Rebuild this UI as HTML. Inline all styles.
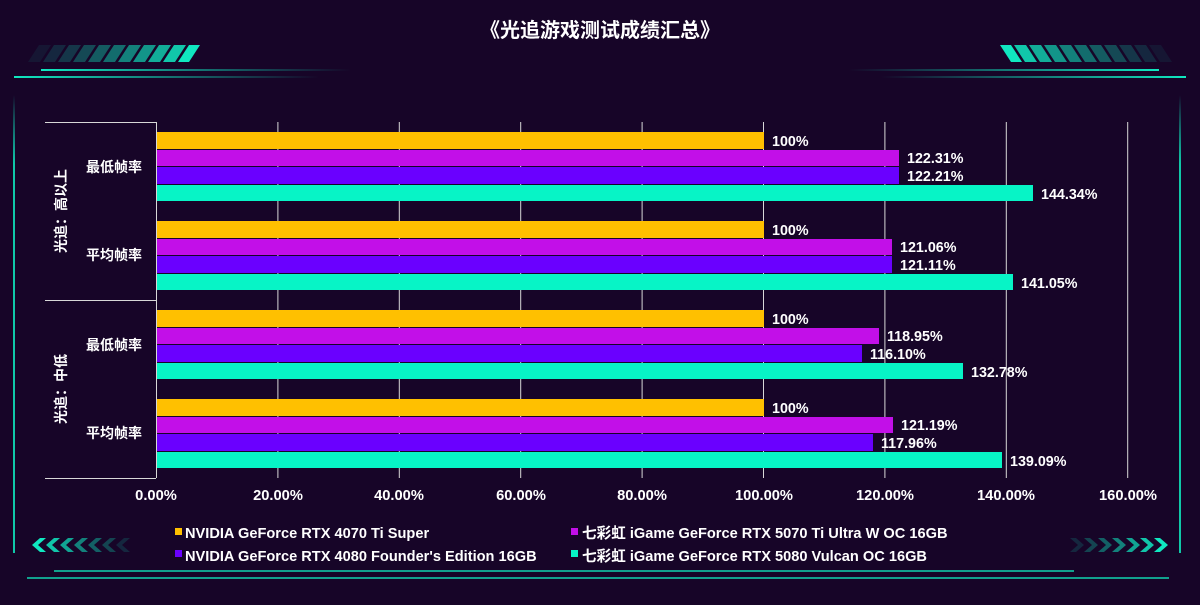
<!DOCTYPE html>
<html><head><meta charset="utf-8"><style>
body{margin:0;background:#170528;}
text{font-family:"Liberation Sans","Noto Sans CJK SC",sans-serif;}
</style></head><body>
<svg width="1200" height="600" xmlns="http://www.w3.org/2000/svg">
<defs>
<linearGradient id="gl" x1="0" x2="1"><stop offset="0" stop-color="#10e8c0"/><stop offset="1" stop-color="#10e8c0" stop-opacity="0"/></linearGradient>
<linearGradient id="gr" x1="1" x2="0"><stop offset="0" stop-color="#10e8c0"/><stop offset="1" stop-color="#10e8c0" stop-opacity="0"/></linearGradient>
<linearGradient id="gv" x1="0" y1="0" x2="0" y2="1"><stop offset="0" stop-color="#10e8c0" stop-opacity="0"/><stop offset="0.15" stop-color="#10c8a8"/><stop offset="1" stop-color="#10c8a8"/></linearGradient>
</defs>
<rect width="1200" height="600" fill="#170528"/>
<text x="600" y="37" text-anchor="middle" font-size="20" font-weight="bold" fill="#fff">《光追游戏测试成绩汇总》</text>
<g id="stl">
<polygon points="28,62 39,45 51,45 40,62" fill="#10e8c0" opacity="0.08"/>
<polygon points="43,62 54,45 66,45 55,62" fill="#10e8c0" opacity="0.15"/>
<polygon points="58,62 69,45 81,45 70,62" fill="#10e8c0" opacity="0.22"/>
<polygon points="73,62 84,45 96,45 85,62" fill="#10e8c0" opacity="0.3"/>
<polygon points="88,62 99,45 111,45 100,62" fill="#10e8c0" opacity="0.38"/>
<polygon points="103,62 114,45 126,45 115,62" fill="#10e8c0" opacity="0.46"/>
<polygon points="118,62 129,45 141,45 130,62" fill="#10e8c0" opacity="0.55"/>
<polygon points="133,62 144,45 156,45 145,62" fill="#10e8c0" opacity="0.64"/>
<polygon points="148,62 159,45 171,45 160,62" fill="#10e8c0" opacity="0.74"/>
<polygon points="163,62 174,45 186,45 175,62" fill="#10e8c0" opacity="0.86"/>
<polygon points="178,62 189,45 200,45 189,62" fill="#10e8c0" opacity="1"/>
</g>
<g transform="translate(1200,0) scale(-1,1)"><use href="#stl"/></g>
<rect x="41" y="69" width="310" height="2" fill="url(#gl)"/>
<rect x="14" y="76" width="305" height="2" fill="url(#gl)"/>
<rect x="849" y="69" width="310" height="2" fill="url(#gr)"/>
<rect x="881" y="76" width="305" height="2" fill="url(#gr)"/>
<rect x="13" y="95" width="2" height="458" fill="url(#gv)"/>
<rect x="1179" y="95" width="2" height="458" fill="url(#gv)"/>
<rect x="54" y="570" width="1020" height="2" fill="#10c8a8" opacity="0.8"/>
<rect x="27" y="577" width="1142" height="2" fill="#10c8a8" opacity="0.8"/>
<g fill="#10e8c0">
<polygon points="32,545 40,538 46,538 38,545 46,552 40,552" opacity="1"/>
<polygon points="46,545 54,538 60,538 52,545 60,552 54,552" opacity="0.85"/>
<polygon points="60,545 68,538 74,538 66,545 74,552 68,552" opacity="0.7"/>
<polygon points="74,545 82,538 88,538 80,545 88,552 82,552" opacity="0.55"/>
<polygon points="88,545 96,538 102,538 94,545 102,552 96,552" opacity="0.4"/>
<polygon points="102,545 110,538 116,538 108,545 116,552 110,552" opacity="0.28"/>
<polygon points="116,545 124,538 130,538 122,545 130,552 124,552" opacity="0.15"/>
<polygon points="1168,545 1160,538 1154,538 1162,545 1154,552 1160,552" opacity="1"/>
<polygon points="1154,545 1146,538 1140,538 1148,545 1140,552 1146,552" opacity="0.85"/>
<polygon points="1140,545 1132,538 1126,538 1134,545 1126,552 1132,552" opacity="0.7"/>
<polygon points="1126,545 1118,538 1112,538 1120,545 1112,552 1118,552" opacity="0.55"/>
<polygon points="1112,545 1104,538 1098,538 1106,545 1098,552 1104,552" opacity="0.4"/>
<polygon points="1098,545 1090,538 1084,538 1092,545 1084,552 1090,552" opacity="0.28"/>
<polygon points="1084,545 1076,538 1070,538 1078,545 1070,552 1076,552" opacity="0.15"/>
</g>
<g stroke="#d8d8d8" stroke-width="1">
<line x1="277.9" y1="122" x2="277.9" y2="478"/>
<line x1="399.3" y1="122" x2="399.3" y2="478"/>
<line x1="520.7" y1="122" x2="520.7" y2="478"/>
<line x1="642.1" y1="122" x2="642.1" y2="478"/>
<line x1="763.5" y1="122" x2="763.5" y2="478"/>
<line x1="884.9" y1="122" x2="884.9" y2="478"/>
<line x1="1006.3" y1="122" x2="1006.3" y2="478"/>
<line x1="1127.7" y1="122" x2="1127.7" y2="478"/>
<line x1="156.5" y1="122" x2="156.5" y2="478"/>
<line x1="45" y1="122.5" x2="156" y2="122.5"/>
<line x1="45" y1="300.5" x2="156" y2="300.5"/>
<line x1="45" y1="478.5" x2="156" y2="478.5"/>
</g>
<g font-size="14" font-weight="bold" fill="#fff">
<text x="114" y="172" text-anchor="middle">最低帧率</text>
<text x="114" y="260" text-anchor="middle">平均帧率</text>
<text x="114" y="350" text-anchor="middle">最低帧率</text>
<text x="114" y="438" text-anchor="middle">平均帧率</text>
<text transform="translate(66,211) rotate(-90)" text-anchor="middle">光追：高以上</text>
<text transform="translate(66,389) rotate(-90)" text-anchor="middle">光追：中低</text>
</g>
<g>
<rect x="157" y="132" width="607" height="17" fill="#ffc000"/>
<rect x="157" y="150" width="742" height="16" fill="#c20fe8"/>
<rect x="157" y="167" width="742" height="17" fill="#6a00ff"/>
<rect x="157" y="185" width="876" height="16" fill="#07f4c6"/>
<rect x="157" y="221" width="607" height="17" fill="#ffc000"/>
<rect x="157" y="239" width="735" height="16" fill="#c20fe8"/>
<rect x="157" y="256" width="735" height="17" fill="#6a00ff"/>
<rect x="157" y="274" width="856" height="16" fill="#07f4c6"/>
<rect x="157" y="310" width="607" height="17" fill="#ffc000"/>
<rect x="157" y="328" width="722" height="16" fill="#c20fe8"/>
<rect x="157" y="345" width="705" height="17" fill="#6a00ff"/>
<rect x="157" y="363" width="806" height="16" fill="#07f4c6"/>
<rect x="157" y="399" width="607" height="17" fill="#ffc000"/>
<rect x="157" y="417" width="736" height="16" fill="#c20fe8"/>
<rect x="157" y="434" width="716" height="17" fill="#6a00ff"/>
<rect x="157" y="452" width="845" height="16" fill="#07f4c6"/>
</g>
<g font-size="14.3" font-weight="bold" fill="#fff">
<text x="772" y="146">100%</text>
<text x="907" y="163">122.31%</text>
<text x="907" y="181">122.21%</text>
<text x="1041" y="199">144.34%</text>
<text x="772" y="235">100%</text>
<text x="900" y="252">121.06%</text>
<text x="900" y="270">121.11%</text>
<text x="1021" y="288">141.05%</text>
<text x="772" y="324">100%</text>
<text x="887" y="341">118.95%</text>
<text x="870" y="359">116.10%</text>
<text x="971" y="377">132.78%</text>
<text x="772" y="413">100%</text>
<text x="901" y="430">121.19%</text>
<text x="881" y="448">117.96%</text>
<text x="1010" y="466">139.09%</text>
</g>
<g font-size="14.7" font-weight="bold" fill="#fff" text-anchor="middle">
<text x="156" y="500">0.00%</text>
<text x="278" y="500">20.00%</text>
<text x="399" y="500">40.00%</text>
<text x="521" y="500">60.00%</text>
<text x="642" y="500">80.00%</text>
<text x="764" y="500">100.00%</text>
<text x="885" y="500">120.00%</text>
<text x="1006" y="500">140.00%</text>
<text x="1128" y="500">160.00%</text>
</g>
<rect x="175" y="528" width="7" height="7" fill="#ffc000"/>
<rect x="175" y="550" width="7" height="7" fill="#6a00ff"/>
<rect x="571" y="528" width="7" height="7" fill="#c20fe8"/>
<rect x="571" y="550" width="7" height="7" fill="#07f4c6"/>
<g font-size="14.6" font-weight="bold" fill="#fff">
<text x="185" y="538">NVIDIA GeForce RTX 4070 Ti Super</text>
<text x="185" y="561">NVIDIA GeForce RTX 4080 Founder's Edition 16GB</text>
<text x="582" y="538">七彩虹 iGame GeForce RTX 5070 Ti Ultra W OC 16GB</text>
<text x="582" y="561">七彩虹 iGame GeForce RTX 5080 Vulcan OC 16GB</text>
</g>
</svg>
</body></html>
